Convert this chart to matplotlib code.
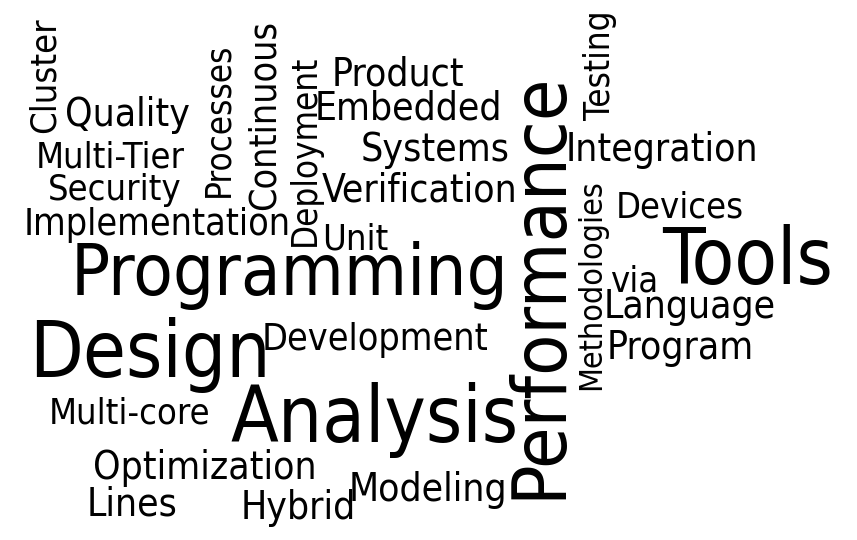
import matplotlib
matplotlib.use('Agg')
from matplotlib import pyplot as plt

words = ['Cluster', 'Quality', 'Multi-Tier', 'Security', 'Implementation',
         'Processes', 'Continuous', 'Deployment', 'Product', 'Embedded',
         'Systems', 'Verification', 'Unit', 'Programming', 'Performance',
         'Testing', 'Integration', 'Methodologies', 'Devices', 'Tools',
         'via', 'Language', 'Program', 'Development', 'Design',
         'Multi-core', 'Analysis', 'Optimization', 'Lines', 'Hybrid', 'Modeling']
xs = [45, 128, 110, 115, 157, 218, 265, 305, 398, 408, 435, 420, 355, 290, 540,
      600, 662, 592, 680, 748, 634, 690, 680, 375, 150, 130, 375, 205, 132, 298, 428]
ys = [75, 115, 158, 190, 225, 120, 115, 150, 75, 108, 150, 190, 240, 275, 285,
      65, 150, 285, 208, 262, 282, 307, 348, 340, 355, 413, 420, 468, 505, 508, 490]
sizes = [26, 28, 26, 26, 27, 25, 27, 25, 28, 28, 28, 28, 26, 52, 54,
         25, 28, 23, 26, 56, 26, 28, 28, 27, 56, 26, 56, 28, 28, 28, 28]
angles = [90, 0, 0, 0, 0, 90, 90, 90, 0, 0, 0, 0, 0, 0, 90,
          90, 0, 90, 0, 0, 0, 0, 0, 0, 0, 0, 0, 0, 0, 0, 0]


def main():
    fig = plt.figure(figsize=(8.57, 5.4), dpi=100)
    ax = fig.add_axes([0, 0, 1, 1])
    ax.set_xlim(0, 857)
    ax.set_ylim(540, 0)
    ax.axis('off')
    for w, x, y, s, a in zip(words, xs, ys, sizes, angles):
        ax.text(x, y, w, fontsize=s, rotation=a, ha='center', va='center',
                family='DejaVu Sans', fontstretch='condensed',
                color='black')
    fig.savefig('out.png')
    plt.close(fig)


if __name__ == '__main__':
    main()
